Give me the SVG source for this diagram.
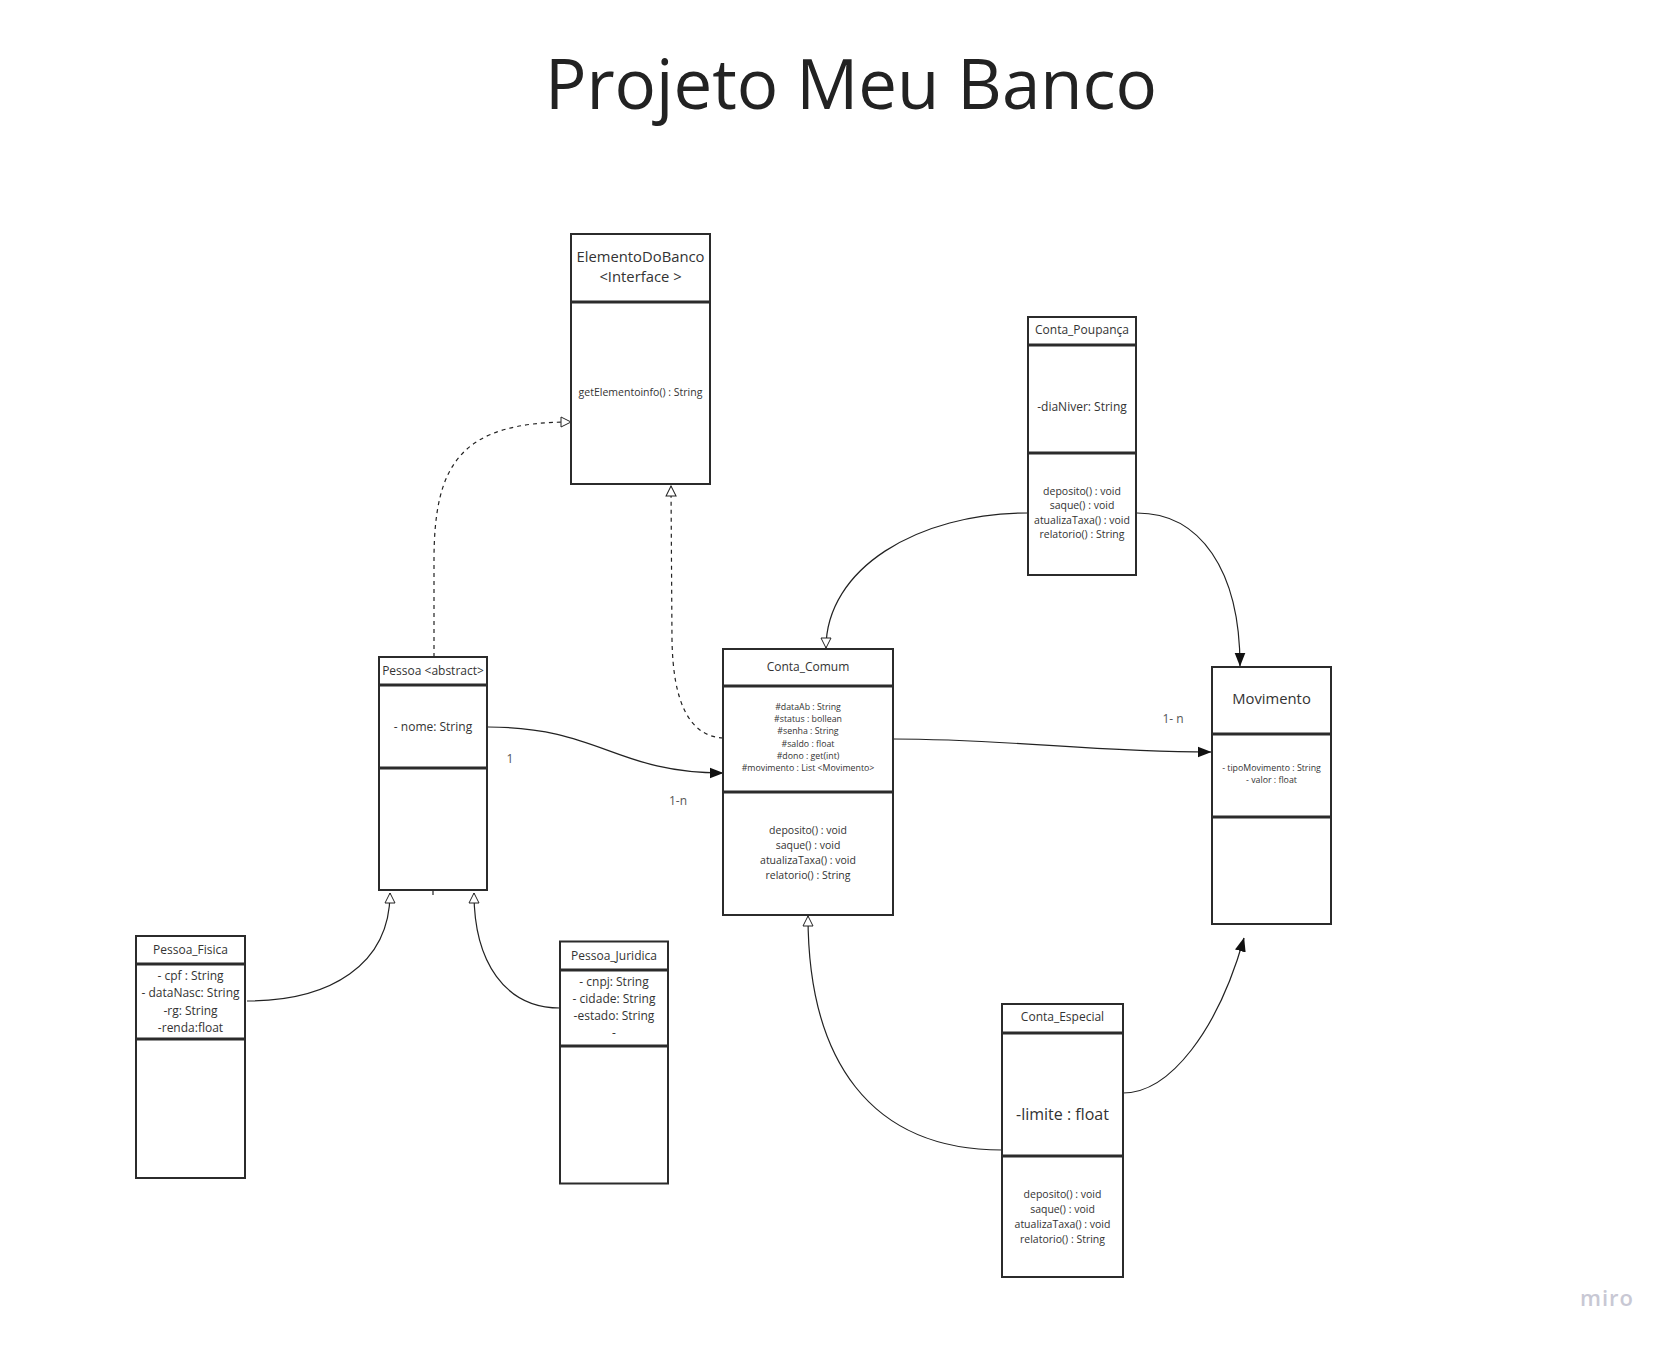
<svg xmlns="http://www.w3.org/2000/svg" width="1672" height="1345" viewBox="0 0 1672 1345">
<style>
  .box { fill: #fff; stroke: #2b2b2b; stroke-width: 2; }
  .div { stroke: #2b2b2b; stroke-width: 3; }
  text { font-family: "Open Sans", "Noto Sans", "Liberation Sans", sans-serif; fill: #333; text-anchor: middle; dominant-baseline: central; }
  .t12 { font-size: 12px; }
  .t9 { font-size: 8.8px; }
  .t10 { font-size: 10.5px; }
  .lbl { font-size: 12px; fill: #555; }
  .con { fill: none; stroke: #222; stroke-width: 1.2; }
  .dash { stroke-dasharray: 4 4; }
</style>
<defs>
  <marker id="hollow" viewBox="0 0 12 12" refX="11" refY="6" markerWidth="12" markerHeight="12" markerUnits="userSpaceOnUse" orient="auto">
    <path d="M1,1 L11,6 L1,11 Z" fill="#fff" stroke="#222" stroke-width="1"/>
  </marker>
  <marker id="filled" viewBox="0 0 14 12" refX="13.5" refY="6" markerWidth="14" markerHeight="12" markerUnits="userSpaceOnUse" orient="auto">
    <path d="M0,0.5 L14,6 L0,11.5 Z" fill="#111"/>
  </marker>
</defs>
<rect width="1672" height="1345" fill="#fff"/>

<text id="title" x="851" y="82" style="font-size:69px; fill:#222;">Projeto Meu Banco</text>

<g id="connectors">
  <path class="con dash" d="M434,657 L434,560 C434,462 462,422 571,422" marker-end="url(#hollow)"/>
  <path class="con dash" d="M723,738 C688,736 673,700 672,640 L671,486" marker-end="url(#hollow)"/>
  <path class="con" d="M488,727 C600,727 615,773 723,773" marker-end="url(#filled)"/>
  <path class="con" d="M893,739 C1010,739 1090,752 1211,752" marker-end="url(#filled)"/>
  <path class="con" d="M1028,513 C917,513 826,569 826,648" marker-end="url(#hollow)"/>
  <path class="con" d="M1137,513 C1200,513 1240,570 1240,666" marker-end="url(#filled)"/>
  <path class="con" d="M1002,1150 C870,1150 808,1060 808,916" marker-end="url(#hollow)"/>
  <path class="con" d="M1123,1093 C1170,1093 1218,1030 1244,938" marker-end="url(#filled)"/>
  <path class="con" d="M247,1001 C330,1001 390,965 390,893" marker-end="url(#hollow)"/>
  <path class="con" d="M560,1008 C505,1008 474,962 474,893" marker-end="url(#hollow)"/>
  <line class="con" x1="808" y1="686" x2="808" y2="691"/>
  <line class="con" x1="433" y1="890" x2="433" y2="895"/>
  <text class="lbl" x="510" y="758">1</text>
  <text class="lbl" x="678" y="800">1-n</text>
  <text class="lbl" x="1173" y="718">1- n</text>
</g>

<g id="ElementoDoBanco">
  <rect class="box" x="571" y="234" width="139" height="250"/>
  <line class="div" x1="571" y1="302" x2="710" y2="302"/>
  <text x="640.5" y="255.5" style="font-size:14.8px">ElementoDoBanco</text>
  <text x="640.5" y="276" style="font-size:14.8px">&lt;Interface &gt;</text>
  <text x="640.5" y="392" style="font-size:10.5px">getElementoinfo() : String</text>
</g>

<g id="Conta_Comum">
  <rect class="box" x="723" y="649" width="170" height="266"/>
  <line class="div" x1="723" y1="686" x2="893" y2="686"/>
  <line class="div" x1="723" y1="792" x2="893" y2="792"/>
  <text class="t12" x="808" y="666">Conta_Comum</text>
  <text class="t9" x="808" y="707">#dataAb : String</text>
  <text class="t9" x="808" y="719.2">#status : bollean</text>
  <text class="t9" x="808" y="731.4">#senha : String</text>
  <text class="t9" x="808" y="743.6">#saldo : float</text>
  <text class="t9" x="808" y="755.8">#dono : get(int)</text>
  <text class="t9" x="808" y="768">#movimento : List &lt;Movimento&gt;</text>
  <text class="t10" x="808" y="830">deposito() : void</text>
  <text class="t10" x="808" y="844.8">saque() : void</text>
  <text class="t10" x="808" y="859.6">atualizaTaxa() : void</text>
  <text class="t10" x="808" y="874.5">relatorio() : String</text>
</g>

<g id="Conta_Poupanca">
  <rect class="box" x="1028" y="317" width="108" height="258"/>
  <line class="div" x1="1028" y1="345" x2="1136" y2="345"/>
  <line class="div" x1="1028" y1="453" x2="1136" y2="453"/>
  <text class="t12" x="1082" y="329">Conta_Poupança</text>
  <text class="t12" x="1082" y="406.5">-diaNiver: String</text>
  <text class="t10" x="1082" y="491">deposito() : void</text>
  <text class="t10" x="1082" y="505.3">saque() : void</text>
  <text class="t10" x="1082" y="519.6">atualizaTaxa() : void</text>
  <text class="t10" x="1082" y="534">relatorio() : String</text>
</g>

<g id="Movimento">
  <rect class="box" x="1212" y="667" width="119" height="257"/>
  <line class="div" x1="1212" y1="734" x2="1331" y2="734"/>
  <line class="div" x1="1212" y1="817" x2="1331" y2="817"/>
  <text x="1271.5" y="698" style="font-size:14.8px">Movimento</text>
  <text class="t9" x="1271.5" y="768">- tipoMovimento : String</text>
  <text class="t9" x="1271.5" y="780">- valor : float</text>
</g>

<g id="Pessoa">
  <rect class="box" x="379" y="657" width="108" height="233"/>
  <line class="div" x1="379" y1="685" x2="487" y2="685"/>
  <line class="div" x1="379" y1="768" x2="487" y2="768"/>
  <text class="t12" x="433" y="670">Pessoa &lt;abstract&gt;</text>
  <text class="t12" x="433" y="726">- nome: String</text>
</g>

<g id="Pessoa_Fisica">
  <rect class="box" x="136" y="936" width="109" height="242"/>
  <line class="div" x1="136" y1="964" x2="245" y2="964"/>
  <line class="div" x1="136" y1="1039" x2="245" y2="1039"/>
  <text class="t12" x="190.5" y="949">Pessoa_Fisica</text>
  <text class="t12" x="190.5" y="975.5">- cpf : String</text>
  <text class="t12" x="190.5" y="992.7">- dataNasc: String</text>
  <text class="t12" x="190.5" y="1010.5">-rg: String</text>
  <text class="t12" x="190.5" y="1027.5">-renda:float</text>
</g>

<g id="Pessoa_Juridica">
  <rect class="box" x="560" y="941.5" width="108" height="242"/>
  <line class="div" x1="560" y1="970" x2="668" y2="970"/>
  <line class="div" x1="560" y1="1046" x2="668" y2="1046"/>
  <text class="t12" x="614" y="955">Pessoa_Juridica</text>
  <text class="t12" x="614" y="981.5">- cnpj: String</text>
  <text class="t12" x="614" y="998.5">- cidade: String</text>
  <text class="t12" x="614" y="1015.5">-estado: String</text>
  <text class="t12" x="614" y="1032.5">-</text>
</g>

<g id="Conta_Especial">
  <rect class="box" x="1002" y="1004" width="121" height="273"/>
  <line class="div" x1="1002" y1="1033" x2="1123" y2="1033"/>
  <line class="div" x1="1002" y1="1156" x2="1123" y2="1156"/>
  <text class="t12" x="1062.5" y="1016">Conta_Especial</text>
  <text x="1062.5" y="1113.5" style="font-size:16px">-limite : float</text>
  <text class="t10" x="1062.5" y="1193.5">deposito() : void</text>
  <text class="t10" x="1062.5" y="1208.5">saque() : void</text>
  <text class="t10" x="1062.5" y="1223.5">atualizaTaxa() : void</text>
  <text class="t10" x="1062.5" y="1238.5">relatorio() : String</text>
</g>

<text id="watermark" x="1607" y="1297" style="font-size:22px; font-weight:600; fill:#c8c8d4; letter-spacing:1px;">miro</text>
</svg>
